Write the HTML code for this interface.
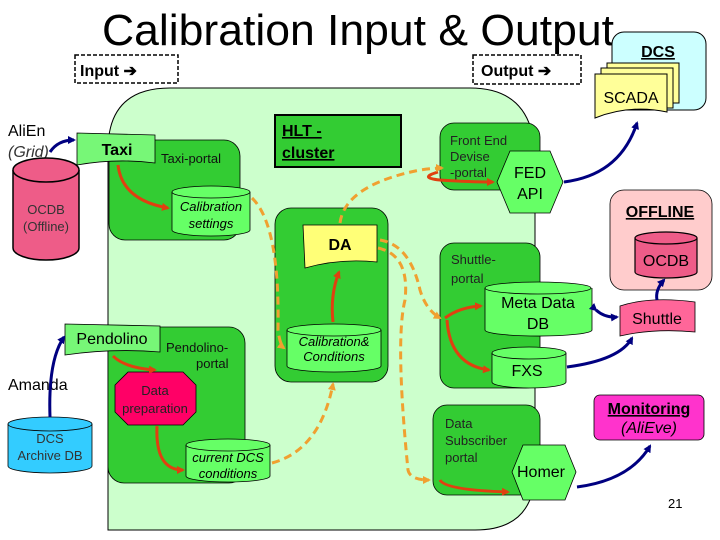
<!DOCTYPE html>
<html><head><style>body{margin:0;background:#fff}svg{display:block;font-family:"Liberation Sans",sans-serif}</style></head><body>
<svg width="720" height="540" viewBox="0 0 720 540" xmlns="http://www.w3.org/2000/svg">
<defs>
<marker id="ab" markerWidth="8" markerHeight="8" refX="6" refY="4" orient="auto" markerUnits="userSpaceOnUse"><path d="M0,0 L8,4 L0,8z" fill="#000080"/></marker>
<marker id="ar" markerWidth="8" markerHeight="8" refX="6" refY="4" orient="auto" markerUnits="userSpaceOnUse"><path d="M0,0 L8,4 L0,8z" fill="#e04010"/></marker>
<marker id="ao" markerWidth="8" markerHeight="8" refX="6" refY="4" orient="auto" markerUnits="userSpaceOnUse"><path d="M0,0 L8,4 L0,8z" fill="#f0a030"/></marker>
</defs>
<text x="358" y="45" font-size="44" text-anchor="middle" textLength="512" lengthAdjust="spacingAndGlyphs">Calibration Input &amp; Output</text>
<rect x="75" y="55" width="103" height="28" fill="none" stroke="#000" stroke-dasharray="4,2" stroke-width="1.5"/>
<text x="80" y="76" font-size="16" font-weight="bold">Input ➔</text>
<rect x="473" y="55" width="108" height="29" fill="none" stroke="#000" stroke-dasharray="4,2" stroke-width="1.5"/>
<text x="481" y="76" font-size="16" font-weight="bold">Output ➔</text>
<path d="M108,530 L108,150 Q108,88 170,88 L470,88 Q535,88 535,160 L535,470 Q535,530 475,530 Z" fill="#ccffcc" stroke="#000"/>
<rect x="612" y="32" width="94" height="78" rx="12" fill="#ccffff" stroke="#000"/>
<text x="658" y="57" font-size="16" font-weight="bold" text-anchor="middle" text-decoration="underline">DCS</text>
<rect x="607" y="63" width="72" height="40" fill="#ffff99" stroke="#000"/>
<rect x="601" y="68" width="72" height="40" fill="#ffff99" stroke="#000"/>
<path d="M595,74 L667,74 L667,112 Q630,104 595,118 Z" fill="#ffff99" stroke="#000"/>
<text x="631" y="103" font-size="16" text-anchor="middle">SCADA</text>
<text x="8" y="136" font-size="16">AliEn</text>
<text x="8" y="157" font-size="16" font-style="italic" fill="#333">(Grid)</text>
<path d="M13,170 L13,248 A33,12 0 0 0 79,248 L79,170" fill="#ee5c88" stroke="#000" stroke-width="1.5"/>
<ellipse cx="46" cy="170" rx="33" ry="12" fill="#ee5c88" stroke="#000" stroke-width="1.5"/>
<text x="46" y="214" font-size="13" text-anchor="middle" fill="#333">OCDB</text>
<text x="46" y="231" font-size="13" text-anchor="middle" fill="#333">(Offline)</text>
<rect x="109" y="140" width="131" height="100" rx="16" fill="#33cc33" stroke="#000" stroke-width="0.8"/>
<text x="161" y="163" font-size="13" fill="#111">Taxi-portal</text>
<path d="M77,133 L155,135 L155,163 Q116,158 77,165 Z" fill="#77f777" stroke="#000" stroke-width="0.8"/>
<text x="117" y="155" font-size="16" font-weight="bold" text-anchor="middle">Taxi</text>
<path d="M172,192 L172,230 A39,6 0 0 0 250,230 L250,192" fill="#66ff66" stroke="#000" stroke-width="0.8"/>
<ellipse cx="211" cy="192" rx="39" ry="6" fill="#66ff66" stroke="#000" stroke-width="0.8"/>
<text x="211" y="211" font-size="13" font-style="italic" text-anchor="middle">Calibration</text>
<text x="211" y="228" font-size="13" font-style="italic" text-anchor="middle">settings</text>
<rect x="275" y="115" width="126" height="52" fill="#33cc33" stroke="#000" stroke-width="2"/>
<text x="282" y="136" font-size="16" font-weight="bold" text-decoration="underline">HLT -</text>
<text x="282" y="158" font-size="16" font-weight="bold" text-decoration="underline">cluster</text>
<rect x="275" y="208" width="113" height="174" rx="16" fill="#33cc33" stroke="#000" stroke-width="0.8"/>
<path d="M303,225 L377,225 L377,262 Q340,258 305,268 Z" fill="#ffff77" stroke="#000" stroke-width="0.8"/>
<text x="340" y="250" font-size="16" font-weight="bold" text-anchor="middle">DA</text>
<path d="M287,330 L287,366 A47,6 0 0 0 381,366 L381,330" fill="#66ff66" stroke="#000" stroke-width="0.8"/>
<ellipse cx="334" cy="330" rx="47" ry="6" fill="#66ff66" stroke="#000" stroke-width="0.8"/>
<text x="334" y="346" font-size="13" font-style="italic" text-anchor="middle">Calibration&amp;</text>
<text x="334" y="361" font-size="13" font-style="italic" text-anchor="middle">Conditions</text>
<rect x="108" y="327" width="137" height="156" rx="16" fill="#33cc33" stroke="#000" stroke-width="0.8"/>
<text x="166" y="352" font-size="13" fill="#111">Pendolino-</text>
<text x="196" y="368" font-size="13" fill="#111">portal</text>
<path d="M65,324 L160,326 L160,352 Q112,348 65,355 Z" fill="#77f777" stroke="#000" stroke-width="0.8"/>
<text x="112" y="344" font-size="16" text-anchor="middle">Pendolino</text>
<path d="M128,372 L183,372 L196,385 L196,412 L183,425 L128,425 L115,412 L115,385 Z" fill="#ff0066" stroke="#000" stroke-width="0.8"/>
<text x="155" y="395" font-size="13" text-anchor="middle" fill="#222">Data</text>
<text x="155" y="413" font-size="13" text-anchor="middle" fill="#222">preparation</text>
<path d="M186,445 L186,476 A42,6 0 0 0 270,476 L270,445" fill="#66ff66" stroke="#000" stroke-width="0.8"/>
<ellipse cx="228" cy="445" rx="42" ry="6" fill="#66ff66" stroke="#000" stroke-width="0.8"/>
<text x="228" y="462" font-size="13" font-style="italic" text-anchor="middle">current DCS</text>
<text x="228" y="478" font-size="13" font-style="italic" text-anchor="middle">conditions</text>
<text x="8" y="390" font-size="16">Amanda</text>
<path d="M8,424 L8,466 A42,7 0 0 0 92,466 L92,424" fill="#33ccff" stroke="#000" stroke-width="0.8"/>
<ellipse cx="50" cy="424" rx="42" ry="7" fill="#33ccff" stroke="#000" stroke-width="0.8"/>
<text x="50" y="443" font-size="13" text-anchor="middle" fill="#333">DCS</text>
<text x="50" y="460" font-size="13" text-anchor="middle" fill="#333">Archive DB</text>
<rect x="440" y="123" width="100" height="67" rx="14" fill="#33cc33" stroke="#000" stroke-width="0.8"/>
<text x="450" y="145" font-size="13" fill="#222">Front End</text>
<text x="450" y="161" font-size="13" fill="#222">Devise</text>
<text x="450" y="177" font-size="13" fill="#222">-portal</text>
<path d="M510,151 L550,151 L563,182 L550,213 L510,213 L497,182 Z" fill="#66ff66" stroke="#000" stroke-width="0.8"/>
<text x="530" y="178" font-size="16" text-anchor="middle">FED</text>
<text x="530" y="199" font-size="16" text-anchor="middle">API</text>
<rect x="440" y="243" width="100" height="145" rx="14" fill="#33cc33" stroke="#000" stroke-width="0.8"/>
<text x="451" y="264" font-size="13" fill="#222">Shuttle-</text>
<text x="451" y="283" font-size="13" fill="#222">portal</text>
<path d="M485,288 L485,330 A53,6 0 0 0 592,330 L592,288" fill="#66ff66" stroke="#000" stroke-width="0.8"/>
<ellipse cx="538" cy="288" rx="53" ry="6" fill="#66ff66" stroke="#000" stroke-width="0.8"/>
<text x="538" y="308" font-size="16" text-anchor="middle">Meta Data</text>
<text x="538" y="329" font-size="16" text-anchor="middle">DB</text>
<path d="M492,353 L492,382 A37,6 0 0 0 566,382 L566,353" fill="#66ff66" stroke="#000" stroke-width="0.8"/>
<ellipse cx="529" cy="353" rx="37" ry="6" fill="#66ff66" stroke="#000" stroke-width="0.8"/>
<text x="527" y="376" font-size="16" text-anchor="middle">FXS</text>
<rect x="433" y="405" width="107" height="90" rx="14" fill="#33cc33" stroke="#000" stroke-width="0.8"/>
<text x="445" y="428" font-size="13" fill="#222">Data</text>
<text x="445" y="445" font-size="13" fill="#222">Subscriber</text>
<text x="445" y="462" font-size="13" fill="#222">portal</text>
<path d="M523,445 L565,445 L576,472 L565,500 L523,500 L512,472 Z" fill="#66ff66" stroke="#000" stroke-width="0.8"/>
<text x="541" y="477" font-size="16" text-anchor="middle">Homer</text>
<rect x="610" y="190" width="102" height="100" rx="14" fill="#ffcccc" stroke="#000" stroke-width="0.8"/>
<text x="660" y="217" font-size="16" font-weight="bold" text-anchor="middle" text-decoration="underline">OFFLINE</text>
<path d="M635,238 L635,272 A31,6 0 0 0 697,272 L697,238" fill="#ee5c88" stroke="#000" stroke-width="1.2"/>
<ellipse cx="666" cy="238" rx="31" ry="6" fill="#ee5c88" stroke="#000" stroke-width="1.2"/>
<text x="666" y="266" font-size="16" text-anchor="middle">OCDB</text>
<path d="M620,306 Q650,296 695,302 L695,332 Q655,328 620,336 Z" fill="#ff6699" stroke="#000" stroke-width="0.8"/>
<text x="657" y="324" font-size="16" text-anchor="middle">Shuttle</text>
<rect x="594" y="395" width="110" height="45" rx="6" fill="#ff33cc" stroke="#000" stroke-width="0.8"/>
<text x="649" y="414" font-size="16" font-weight="bold" text-anchor="middle" text-decoration="underline">Monitoring</text>
<text x="649" y="433" font-size="16" font-style="italic" text-anchor="middle">(AliEve)</text>
<text x="668" y="508" font-size="13">21</text>
<g fill="none" stroke="#000080" stroke-width="3">
<path d="M50,152 Q58,140 74,140" marker-end="url(#ab)"/>
<path d="M50,417 Q48,360 64,337" marker-end="url(#ab)"/>
<path d="M564,182 Q620,175 637,123" marker-end="url(#ab)"/>
<path d="M567,367 Q620,360 632,338" marker-end="url(#ab)"/>
<path d="M577,487 Q630,480 650,446" marker-end="url(#ab)"/>
<path d="M657,300 Q655,290 664,280" marker-end="url(#ab)"/>
<path d="M596,310 Q605,318 617,317" marker-end="url(#ab)" marker-start="url(#ab)"/>
</g>
<g fill="none" stroke="#e04010" stroke-width="3">
<path d="M118,165 Q122,200 168,208" marker-end="url(#ar)"/>
<path d="M333,322 Q330,295 339,272" marker-end="url(#ar)"/>
<path d="M113,356 Q125,368 155,370" marker-end="url(#ar)"/>
<path d="M157,426 Q155,470 183,470" marker-end="url(#ar)"/>
<path d="M438,172 Q418,178 440,180 Q470,182 493,182" marker-end="url(#ar)"/>
<path d="M445,318 Q460,307 481,306" marker-end="url(#ar)"/>
<path d="M447,320 Q450,365 489,370" marker-end="url(#ar)"/>
<path d="M440,480 Q445,490 508,492" marker-end="url(#ar)"/>
</g>
<g fill="none" stroke="#f0a030" stroke-width="3" stroke-dasharray="8,5">
<path d="M252,198 Q280,225 278,330 Q280,345 284,348" marker-end="url(#ao)"/>
<path d="M340,223 Q345,185 420,170 Q435,168 442,168" marker-end="url(#ao)"/>
<path d="M378,248 Q410,255 405,300 Q395,340 408,470 Q410,480 429,480" marker-end="url(#ao)"/>
<path d="M380,240 Q410,245 420,290 Q426,310 440,318" marker-end="url(#ao)"/>
<path d="M272,463 Q320,450 333,384" marker-end="url(#ao)"/>
</g>
</svg>
</body></html>
